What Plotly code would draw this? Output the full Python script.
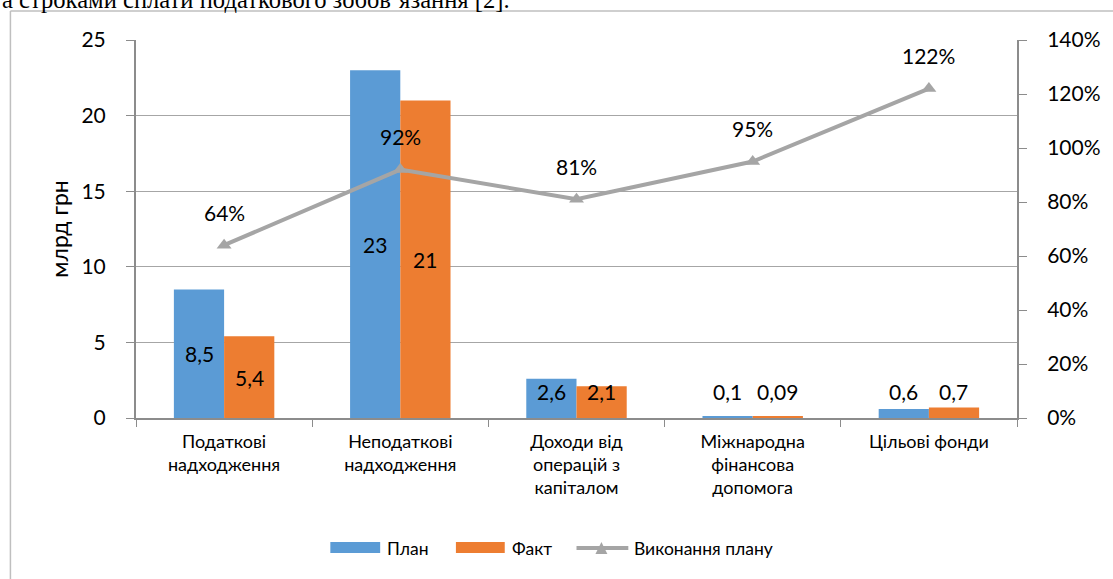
import plotly.graph_objects as go

# Budget revenues: plan vs actual (bn UAH) and plan fulfilment (%)
categories = [
    "Податкові<br>надходження",
    "Неподаткові<br>надходження",
    "Доходи від<br>операцій з<br>капіталом",
    "Міжнародна<br>фінансова<br>допомога",
    "Цільові фонди",
]
plan = [8.5, 23, 2.6, 0.1, 0.6]
fact = [5.4, 21, 2.1, 0.09, 0.7]
fulfilment = [0.64, 0.92, 0.81, 0.95, 1.22]

y_ticks = [0, 5, 10, 15, 20, 25]
y2_ticks = [0, 0.2, 0.4, 0.6, 0.8, 1.0, 1.2, 1.4]

BLUE = "#5b9bd5"
ORANGE = "#ed7d31"
GREY = "#a5a5a5"
AXIS = "#8c8c8c"
GRID = "#a6a6a6"
FONT = "Lato"

W, H = 1113, 579
ML, MR, MT, MB = 136, 93, 40, 161
PW, PH = W - ML - MR, H - MT - MB


def px(x):
    return (x - ML) / PW


def py(y):
    return (H - MB - y) / PH


def fmt(v):
    return f"{v:g}".replace(".", ",")


fig = go.Figure()
fig.add_trace(go.Bar(name="План", x=categories, y=plan, marker_color=BLUE,
                     marker_line_width=0, showlegend=False, hoverinfo="y"))
fig.add_trace(go.Bar(name="Факт", x=categories, y=fact, marker_color=ORANGE,
                     marker_line_width=0, showlegend=False, hoverinfo="y"))
fig.add_trace(go.Scatter(name="Виконання плану", x=categories, y=fulfilment,
                         yaxis="y2", mode="lines+markers",
                         line=dict(color=GREY, width=4),
                         marker=dict(symbol="triangle-up", size=13, color=GREY),
                         showlegend=False, hoverinfo="y"))

annotations = []
# bar value labels: centred in tall bars, on a common level for short ones
for series, shift in ((plan, -25), (fact, 25)):
    for cat, v in zip(categories, series):
        ylab = v / 2 if v >= 5 else 1.75
        annotations.append(dict(x=cat, y=ylab, xref="x", yref="y", xshift=shift,
                                text=fmt(v), showarrow=False,
                                font=dict(family=FONT, size=21, color="#000")))
# fulfilment labels above the markers
for cat, p in zip(categories, fulfilment):
    annotations.append(dict(x=cat, y=p, xref="x", yref="y2", yshift=33,
                            text=f"{round(p * 100)}%", showarrow=False,
                            font=dict(family=FONT, size=21, color="#000")))

# surrounding text line, cut by the top edge
annotations.append(dict(x=px(0), y=py(15), xref="paper", yref="paper",
                        xanchor="left", yanchor="bottom", showarrow=False,
                        text="а строками сплати податкового зобов’язання [2].",
                        font=dict(family="Liberation Serif", size=24.6, color="#000")))

# legend
legend_font = dict(family=FONT, size=17.5, color="#000")
shapes = [
    dict(type="rect", xref="paper", yref="paper", x0=px(331), x1=px(381),
         y0=py(553), y1=py(542), fillcolor=BLUE, line_width=0),
    dict(type="rect", xref="paper", yref="paper", x0=px(457), x1=px(506),
         y0=py(553), y1=py(542), fillcolor=ORANGE, line_width=0),
    dict(type="line", xref="paper", yref="paper", x0=px(578), x1=px(630),
         y0=py(548), y1=py(548), line=dict(color=GREY, width=4)),
    dict(type="path", xref="paper", yref="paper",
         path=f"M {px(597)} {py(554)} L {px(609)} {py(554)} L {px(603)} {py(542)} Z",
         fillcolor=GREY, line_width=0),
    # chart frame
    dict(type="line", xref="paper", yref="paper", x0=px(10), x1=px(1120),
         y0=py(11), y1=py(11), line=dict(color="#bfbfbf", width=1.5)),
    dict(type="line", xref="paper", yref="paper", x0=px(10), x1=px(10),
         y0=py(11), y1=py(590), line=dict(color="#bfbfbf", width=1.5)),
]
for text, x in (("План", 386), ("Факт", 511), ("Виконання плану", 634)):
    annotations.append(dict(x=px(x), y=py(548), xref="paper", yref="paper",
                            xanchor="left", yanchor="middle", showarrow=False,
                            text=text, font=legend_font))

fig.update_layout(
    width=W, height=H,
    margin=dict(l=ML, r=MR, t=MT, b=MB),
    paper_bgcolor="white", plot_bgcolor="white",
    barmode="group", bargap=0.43, bargroupgap=0,
    showlegend=False,
    font=dict(family=FONT, color="#000"),
    annotations=annotations, shapes=shapes,
    xaxis=dict(
        type="category", tickson="boundaries", ticks="outside", ticklen=7,
        tickcolor=AXIS, showline=True, linecolor=AXIS, linewidth=2,
        showgrid=False, tickfont=dict(family=FONT, size=18, color="#000"),
        ticklabelstandoff=6,
    ),
    yaxis=dict(
        range=[0, 25], tickvals=y_ticks, ticks="outside", ticklen=8,
        tickcolor=AXIS, showline=True, linecolor=AXIS, linewidth=2,
        showgrid=True, gridcolor=GRID, gridwidth=1, zeroline=False,
        tickfont=dict(family=FONT, size=21, color="#000"),
        ticklabelstandoff=16,
        title=dict(text="млрд грн", font=dict(family=FONT, size=23, color="#000"),
                   standoff=6),
    ),
    yaxis2=dict(
        range=[0, 1.4], tickvals=y2_ticks, tickformat=".0%", overlaying="y",
        side="right", ticks="outside", ticklen=8, tickcolor=AXIS,
        showline=True, linecolor=AXIS, linewidth=2, showgrid=False,
        zeroline=False, tickfont=dict(family=FONT, size=21, color="#000"),
        ticklabelstandoff=16,
    ),
)

fig.write_html("out.html")
